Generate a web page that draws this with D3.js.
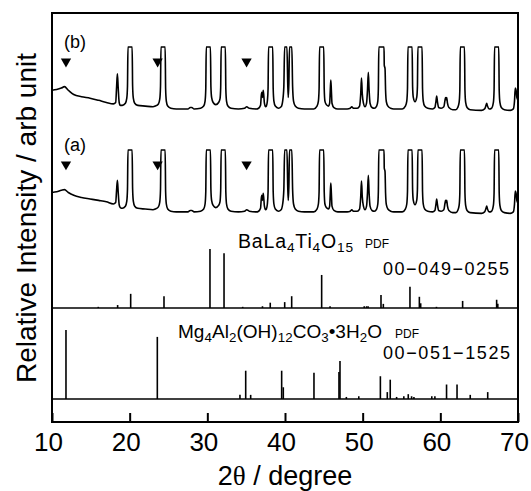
<!DOCTYPE html>
<html>
<head>
<meta charset="utf-8">
<script src="https://cdn.jsdelivr.net/npm/d3@7"></script>
<style>
  body { margin: 0; background: #fff; }
  text { font-family: "Liberation Sans", Arial, sans-serif; fill: #000; }
</style>
</head>
<body>
<svg id="chart" width="531" height="491"></svg>
<script>
// x axis
var xTicks = [10, 20, 30, 40, 50, 60, 70];

// XRD patterns, [2theta, intensity] (peaks clipped at 100)
var lowA = [[10,41],[10.6,42],[11.2,44],[11.6,45],[12.1,41],[12.8,37],[13.8,34],[14.9,32],[16,30],[17,28],[17.9,25],
  [18.2,27],[18.32,45],[18.42,58],[18.52,42],[18.65,24],[18.8,20]];
var lowB = [[10,40],[10.6,41],[11.2,43],[11.6,45],[12.1,40],[12.8,34],[13.8,31],[14.9,29],[16,26],[17,23],[17.9,21],
  [18.2,23],[18.32,45],[18.42,63],[18.52,44],[18.65,23],[18.8,19]];
var highAngle = [[19.05,19],[19.45,22],[19.63,29],[19.72,46],[19.78,100],[20.32,100],[20.38,46],[20.47,29],[20.65,22],
  [21.05,19],[22,18],[23,17],[23.3,18],[23.7,21],[23.88,28],[23.97,45],[24.03,100],[24.57,100],[24.63,42],[24.72,25],
  [24.9,18],[25.3,15],[26,14],[27.5,14],[27.8,16],[28.0,16],[28.3,14],[29.13,15],[29.53,18],[29.71,25],[29.8,42],
  [29.86,100],[30.4,100],[30.46,45],[30.55,30],[30.75,23],[31.09,20],[31.45,23],[31.63,28],[31.72,44],[31.78,100],
  [32.32,100],[32.38,42],[32.47,25],[32.65,18],[33.05,15],[34,14],[34.8,15],[35.07,17],[35.4,15],[36.3,14],[36.6,15],
  [36.85,19],[36.95,33],[37.02,37],[37.1,30],[37.2,40],[37.35,22],[37.5,17],[37.6,18],[37.73,25],[37.82,42],[37.88,100],
  [38.42,100],[38.48,42],[38.57,25],[38.75,18],[39.15,15],[39.5,17],[39.7,25],[39.85,45],[39.95,100],[40.25,100],
  [40.35,50],[40.42,30],[40.5,50],[40.58,100],[40.88,100],[40.98,45],[41.1,25],[41.32,18],[41.72,15],[42.5,14],
  [43.7,14],[44.12,18],[44.3,25],[44.39,42],[44.45,100],[44.99,100],[45.05,42],[45.14,25],[45.32,20],[45.6,18],
  [45.75,22],[45.83,40],[45.9,54],[45.97,40],[46.05,22],[46.3,16],[46.8,14],[48.0,14],[48.4,15],[48.6,17],[48.8,15],
  [49.3,15],[49.6,18],[49.75,35],[49.85,57],[49.95,35],[50.1,22],[50.3,17],[50.5,22],[50.62,40],[50.73,65],[50.83,40],
  [50.95,22],[51.2,16],[51.5,15],[51.8,18],[51.95,25],[52.02,42],[52.08,100],[52.75,100],[52.78,75],[52.88,70],
  [52.95,40],[53.05,24],[53.25,18],[53.6,15],[54,14],[55.1,14],[55.5,18],[55.68,25],[55.77,42],[55.83,100],[56.37,100],
  [56.43,45],[56.52,30],[56.74,24],[56.96,30],[57.05,45],[57.11,100],[57.65,100],[57.71,42],[57.8,25],[57.98,18],
  [58.38,15],[59.0,14],[59.3,16],[59.43,24],[59.53,32],[59.63,24],[59.78,16],[60.1,15],[60.45,17],[60.6,26],[60.68,30],
  [60.75,27],[60.82,30],[60.92,22],[61.1,16],[61.6,13],[62.0,13],[62.24,16],[62.42,23],[62.51,40],[62.57,100],
  [63.11,100],[63.17,40],[63.26,23],[63.44,16],[63.84,13],[65.3,12],[65.7,14],[65.88,19],[65.97,22],[66.07,18],
  [66.3,14],[66.6,15],[66.83,23],[66.92,40],[66.98,100],[67.52,100],[67.58,40],[67.67,23],[67.85,16],[68.25,13],
  [69.0,12],[69.4,14],[69.55,25],[69.65,43],[69.75,40],[69.85,30],[70.0,26]];

// hydrotalcite peaks marked with triangles
var markerPos = [11.8, 23.6, 35.05];
var markerLevel = 80;

// reference cards (relative intensity)
var balaPos = [15.96, 18.45, 20.13, 24.42, 30.34, 32.15, 34.55, 37.1, 38.1, 39.96, 40.86, 44.72, 45.8, 50.2, 50.5, 50.7,
  52.36, 52.66, 56.09, 57.3, 57.47, 59.5, 62.87, 67.25, 67.4];
var balaInt = [2, 5, 24, 20, 100, 93, 2, 3, 9, 10, 20, 56, 3, 3, 3, 3, 22, 7, 36, 19, 8, 2, 12, 14, 7];

var mgPos = [11.8, 23.56, 34.2, 34.94, 35.58, 39.57, 39.78, 43.73, 46.95, 47.08, 47.9, 49.5, 52.28, 53.17, 53.55,
  54.37, 55.3, 55.87, 56.3, 56.6, 58.9, 59.3, 60.8, 62.15, 63.85, 66.1];
var mgInt = [100, 90, 6, 41, 6, 41, 17, 38, 39, 55, 3, 4, 33, 10, 28, 3, 4, 7, 4, 3, 4, 4, 21, 21, 6, 10];

var svg = d3.select("#chart");

var x = d3.scaleLinear().domain([10, 70]).range([52, 518]);
var yPat = d3.scaleLinear().domain([0, 290]).range([222, 13.2]);
var yBala = d3.scaleLinear().domain([0, 100]).range([308, 249]);
var yMg = d3.scaleLinear().domain([0, 100]).range([399, 330]);

var patterns = [
  {name: "(a)", data: lowA.concat(highAngle), off: 0},
  {name: "(b)", data: lowB.concat(highAngle), off: 143}
];

// patterns
patterns.forEach(function(p) {
  var line = d3.line()
    .x(function(d) { return x(d[0]); })
    .y(function(d) { return yPat(d[1] + p.off); })
    .curve(d3.curveMonotoneX);
  svg.append("path")
    .datum(p.data)
    .attr("d", line)
    .attr("fill", "none")
    .attr("stroke", "#000")
    .attr("stroke-width", 1.6)
    .attr("stroke-linejoin", "round");

  svg.selectAll()
    .data(markerPos).enter()
    .append("path")
    .attr("d", d3.symbol(d3.symbolTriangle, 46))
    .attr("fill", "#000")
    .attr("transform", function(d) {
      return "translate(" + x(d) + "," + yPat(markerLevel + p.off) + ") rotate(180)";
    });

  svg.append("text")
    .attr("x", 64)
    .attr("y", yPat(100 + p.off) + 1)
    .attr("font-size", 18)
    .text(p.name);
});

// reference sticks
function sticks(pos, vals, y) {
  svg.selectAll()
    .data(pos).enter()
    .append("line")
    .attr("x1", function(d) { return x(d); })
    .attr("x2", function(d) { return x(d); })
    .attr("y1", y(0))
    .attr("y2", function(d, i) { return y(vals[i]); })
    .attr("stroke", "#000")
    .attr("stroke-width", 1.6);
  svg.append("line")
    .attr("x1", x.range()[0]).attr("x2", x.range()[1])
    .attr("y1", y(0)).attr("y2", y(0))
    .attr("stroke", "#000")
    .attr("stroke-width", 1.6);
}
sticks(balaPos, balaInt, yBala);
sticks(mgPos, mgInt, yMg);

// formula labels with subscripts
function formula(xp, yp, size, width, parts) {
  var t = svg.append("text").attr("x", xp).attr("y", yp).attr("font-size", size)
    .attr("textLength", width).attr("lengthAdjust", "spacing");
  var down = false;
  parts.forEach(function(s) {
    var sub = s.charAt(0) == "_";
    var ts = t.append("tspan").text(sub ? s.slice(1) : s);
    if (sub) {
      ts.attr("font-size", size * 0.7).attr("dy", down ? 0 : 4);
      down = true;
    } else if (down) {
      ts.attr("dy", -4);
      down = false;
    }
  });
  return t;
}
formula(238, 248, 19.5, 115, ["BaLa", "_4", "Ti", "_4", "O", "_15"]);
svg.append("text").attr("x", 365).attr("y", 248).attr("font-size", 12).text("PDF");
svg.append("text").attr("x", 383).attr("y", 275).attr("font-size", 18)
  .attr("textLength", 126).attr("lengthAdjust", "spacing").text("00\u2212049\u22120255");

formula(178, 338, 19, 204, ["Mg", "_4", "Al", "_2", "(OH)", "_12", "CO", "_3", "\u2022", "3H", "_2", "O"]);
svg.append("text").attr("x", 395).attr("y", 338).attr("font-size", 12).text("PDF");
svg.append("text").attr("x", 383).attr("y", 359).attr("font-size", 18)
  .attr("textLength", 127).attr("lengthAdjust", "spacing").text("00\u2212051\u22121525");

// bottom axis, ticks pointing inward
var axis = svg.append("g")
  .attr("transform", "translate(0,422)")
  .call(d3.axisBottom(x).tickValues(xTicks).tickSizeInner(-9).tickSizeOuter(0)
    .tickPadding(11).tickFormat(d3.format("d")));
axis.select(".domain").remove();
axis.selectAll("line").attr("stroke", "#000").attr("stroke-width", 2);
axis.selectAll("text")
  .attr("font-size", 26)
  .attr("dx", -4)
  .attr("font-family", "Liberation Sans, Arial, sans-serif")
  .attr("fill", "#000");

// frame
svg.append("rect")
  .attr("x", 52).attr("y", 13)
  .attr("width", 466).attr("height", 409)
  .attr("fill", "none")
  .attr("stroke", "#000")
  .attr("stroke-width", 2);

// axis titles
var xt = svg.append("text")
  .attr("x", 285).attr("y", 485)
  .attr("text-anchor", "middle")
  .attr("font-size", 27);
xt.append("tspan").text("2");
xt.append("tspan").attr("font-family", "Liberation Serif, serif").text("\u03b8");
xt.append("tspan").text(" / degree");

svg.append("text")
  .attr("transform", "translate(36,218) rotate(-90)")
  .attr("text-anchor", "middle")
  .attr("font-size", 28)
  .text("Relative Intensity / arb unit");
</script>
</body>
</html>
